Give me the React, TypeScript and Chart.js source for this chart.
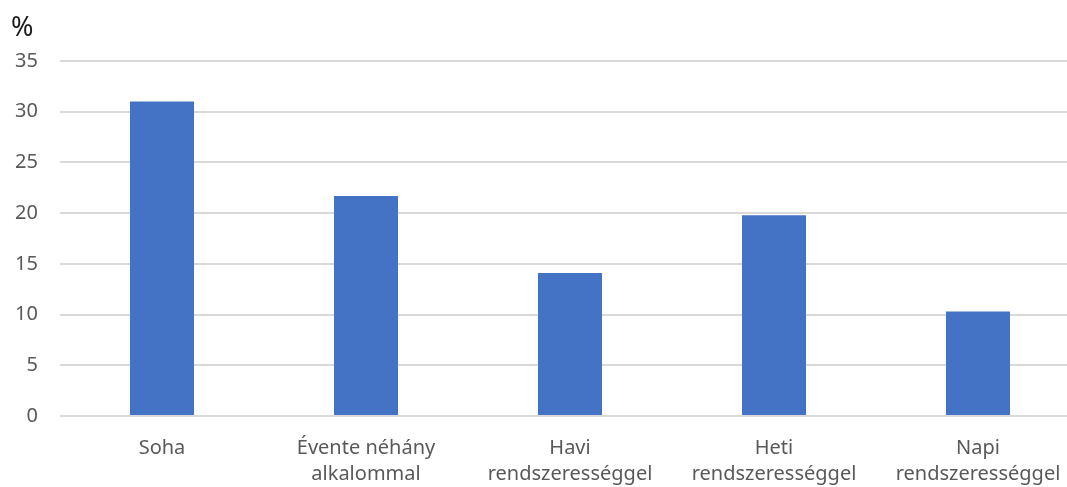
import React, { useEffect, useRef } from "react";
import { Chart, registerables } from "chart.js";

Chart.register(...registerables);

const categories: (string | string[])[] = [
  "Soha",
  ["Évente néhány", "alkalommal"],
  ["Havi", "rendszerességgel"],
  ["Heti", "rendszerességgel"],
  ["Napi", "rendszerességgel"],
];
const values = [31.0, 21.7, 14.1, 19.8, 10.3];
const unitLabel = "%";
const yMax = 35;
const yStep = 5;

export default function App() {
  const ref = useRef<HTMLCanvasElement>(null);
  useEffect(() => {
    if (!ref.current) return;
    const unitPlugin = {
      id: "unitLabel",
      afterDraw(chart: any) {
        const ctx = chart.ctx;
        ctx.save();
        ctx.font = "27px 'Noto Sans'";
        ctx.fillStyle = "#1a1a1a";
        ctx.textAlign = "left";
        ctx.textBaseline = "alphabetic";
        ctx.fillText(unitLabel, 11, 36);
        ctx.restore();
      },
    };
    const chart = new Chart(ref.current, {
      type: "bar",
      data: {
        labels: categories,
        datasets: [
          {
            data: values,
            backgroundColor: "#4472C4",
            categoryPercentage: 1,
            barPercentage: 0.314,
          },
        ],
      },
      options: {
        animation: false,
        responsive: false,
        maintainAspectRatio: false,
        layout: { padding: { top: 61, right: 10, left: 0, bottom: 0 } },
        plugins: { legend: { display: false }, tooltip: { enabled: false } },
        scales: {
          x: {
            grid: { display: false, drawTicks: false },
            border: { display: false },
            ticks: {
              color: "#595959",
              font: { family: "'Noto Sans'", size: 20, lineHeight: 1.3 },
              padding: 19,
              maxRotation: 0,
              autoSkip: false,
            },
            afterFit(scale: any) {
              scale.height = 71;
            },
          },
          y: {
            min: 0,
            max: yMax,
            ticks: {
              stepSize: yStep,
              color: "#595959",
              font: { family: "'Noto Sans'", size: 20 },
              padding: 22,
            },
            grid: { color: "#d9d9d9", lineWidth: 2, drawTicks: false },
            border: { display: false },
            afterFit(scale: any) {
              scale.width = 60;
            },
          },
        },
      },
      plugins: [unitPlugin],
    });
    return () => chart.destroy();
  }, []);
  return (
    <div style={{ position: "fixed", left: 0, top: 0, width: 1067, height: 487, overflow: "hidden", background: "#fff" }}>
      <canvas ref={ref} width={1090} height={487} style={{ display: "block" }} />
    </div>
  );
}
